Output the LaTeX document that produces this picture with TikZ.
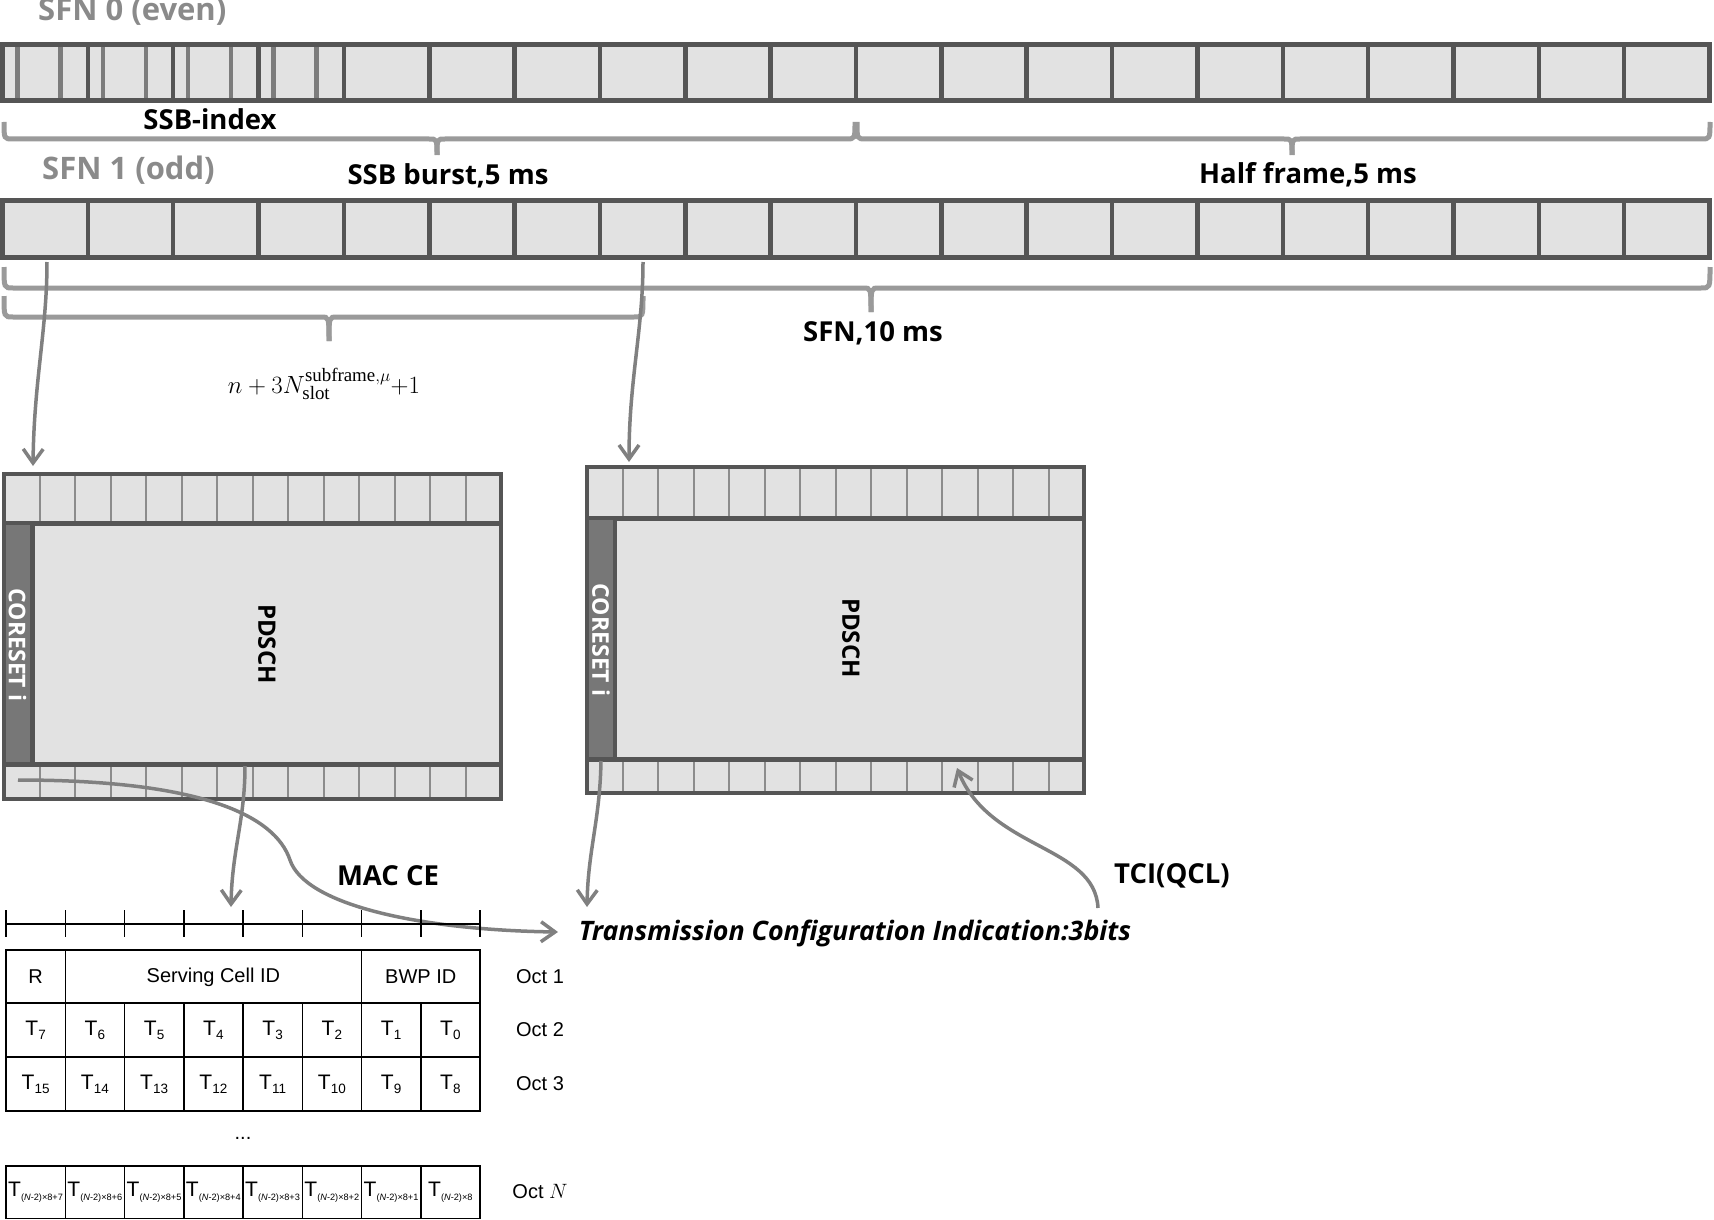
\documentclass[tikz,border=0pt]{standalone}
\usepackage{fontspec}
\setmainfont{Liberation Sans}
\setmathrm{Liberation Serif}
\newfontfamily\labfont{Open Sans}
\usetikzlibrary{arrows.meta}
\definecolor{bordc}{HTML}{555555}
\definecolor{cellc}{HTML}{E2E2E2}
\definecolor{thinc}{HTML}{8C8C8C}
\definecolor{ssbc}{HTML}{7C7C7C}
\definecolor{brc}{HTML}{9A9A9A}
\definecolor{arrc}{HTML}{808080}
\definecolor{grytxt}{HTML}{8A8A8A}
\definecolor{corc}{HTML}{777777}
\newcommand\Tsb[1]{T\raisebox{-4pt}{\fontsize{13.5}{14}\selectfont #1}}
\newcommand\Tlg[1]{T\raisebox{-4pt}{\fontsize{9.2}{10}\selectfont (\textit{N}-2)×8#1}}
\newcommand\gbrace[6]{%
  \draw[gbr] (#1,#4) .. controls (#1,#5) .. (#1+9,#5) -- (#3-8,#5) .. controls (#3,#5) .. (#3,#6);
  \draw[gbr] (#2,#4) .. controls (#2,#5) .. (#2-9,#5) -- (#3+8,#5) .. controls (#3,#5) .. (#3,#6);}
\newcommand\slotbox[7]{%
  \fill[cellc] (#1,#2) rectangle (#3,#4);
  \foreach \k in {1,...,13} {
    \draw[thinl] ({#1+\k*(#3-#1)/14},#2) -- ({#1+\k*(#3-#1)/14},#5);
    \draw[thinl] ({#1+\k*(#3-#1)/14},#6) -- ({#1+\k*(#3-#1)/14},#4);}
  \draw[draw=bordc, line width=5pt] (#1,#5) -- (#3,#5) (#1,#6) -- (#3,#6);
  \filldraw[fill=corc, draw=bordc, line width=4.5pt] (#1,#5) rectangle (#7,#6);
  \draw[bord] (#1,#2) rectangle (#3,#4);}
\begin{document}
\begin{tikzpicture}[x=1pt,y=-1pt,
  lab/.style={font=\labfont\bfseries\fontsize{27.5}{30}\selectfont, inner sep=0pt},
  glab/.style={font=\labfont\bfseries\fontsize{31}{33}\selectfont, text=grytxt, inner sep=0pt},
  bord/.style={draw=bordc, line width=4.5pt},
  divl/.style={draw=bordc, line width=4.5pt},
  ssbl/.style={draw=ssbc, line width=4.5pt},
  thinl/.style={draw=thinc, line width=2pt},
  gbr/.style={draw=brc, line width=5pt},
  arr/.style={draw=arrc, line width=3.5pt, -{Straight Barb[length=14pt,width=20pt]}},
  tbl/.style={draw=black, line width=1.5pt},
  ttxt/.style={font=\fontsize{20}{22}\selectfont, inner sep=0pt},
  tcell/.style={font=\fontsize{21}{22}\selectfont, inner sep=0pt},
  tlong/.style={font=\fontsize{21}{22}\selectfont, inner sep=0pt},
  vtxt/.style={rotate=-90, font=\labfont\bfseries\fontsize{24}{26}\selectfont, inner sep=0pt}]
\fill[white] (0,0) rectangle (1714,1220);
\useasboundingbox (0,0) rectangle (1714,1220);

% ---- SFN 0 bar
\node[glab, anchor=base west] (sfn0) at (38,21) {SFN 0 (even)};
\fill[cellc] (2.5,44.5) rectangle (1709.5,100.5);
\foreach \k in {0,1,2,3} {
  \draw[ssbl] ({2.5+\k*85.35+15},47) -- ++(0,51);
  \draw[ssbl] ({2.5+\k*85.35+58},47) -- ++(0,51);}
\foreach \k in {1,...,19} \draw[divl] ({2.5+\k*85.35},44.5) -- ++(0,56);
\draw[bord] (2.5,44.5) rectangle (1709.5,100.5);

\gbrace{4}{855}{437}{122}{139}{155}
\gbrace{857}{1710}{1292}{122}{139}{155}
\node[lab, anchor=base] (ssbidx) at (210,130) {SSB-index};
\node[glab, anchor=base west] (sfn1) at (42,179) {SFN 1 (odd)};
\node[lab, anchor=base] (burst) at (448,184) {SSB burst,5 ms};
\node[lab, anchor=base] (half) at (1308,183) {Half frame,5 ms};

% ---- SFN 1 bar
\fill[cellc] (2.5,200.5) rectangle (1709.5,257.5);
\foreach \k in {1,...,19} \draw[divl] ({2.5+\k*85.35},200.5) -- ++(0,57);
\draw[bord] (2.5,200.5) rectangle (1709.5,257.5);

\gbrace{4}{1710}{871}{267}{288}{312}
\gbrace{4}{643}{329}{296}{317}{341}
\node[lab, anchor=base] (sfn10) at (873,341) {SFN,10 ms};
\node[inner sep=0pt, font=\fontsize{27}{28}\selectfont] (frm) at (324,384)
  {$n+3N^{\mathrm{subframe},\mu}_{\mathrm{slot}}{+}1$};

% ---- slot boxes
\slotbox{4}{474}{501}{799}{523}{764}{32.5}
\node[vtxt] (pdschA) at (267,644) {PDSCH};
\node[vtxt, text=white, font=\labfont\bfseries\fontsize{23}{25}\selectfont] (corA) at (17.5,645) {CORESET i};
\slotbox{587}{467}{1084}{793}{518}{759}{615}
\node[vtxt] (pdschB) at (851,638) {PDSCH};
\node[vtxt, text=white, font=\labfont\bfseries\fontsize{23}{25}\selectfont] (corB) at (601,640) {CORESET i};

% ---- connectors
\coordinate (a1s) at (47,262); \coordinate (a1e) at (33,466);
\coordinate (a2s) at (643,262); \coordinate (a2e) at (629,462);
\coordinate (a3s) at (245,766); \coordinate (a3e) at (231,907);
\coordinate (a4s) at (601,761); \coordinate (a4e) at (587,907);
\coordinate (macs) at (18,780); \coordinate (macm) at (290,860); \coordinate (mace) at (558,932);
\coordinate (tcis) at (1098,908); \coordinate (tcie) at (957,768);
\draw[arr] (a1s) .. controls (47,330) and (34,380) .. (a1e);
\draw[arr] (a2s) .. controls (643,330) and (629,380) .. (a2e);
\draw[arr] (a3s) .. controls (245,820) and (232,850) .. (a3e);
\draw[arr] (a4s) .. controls (600,820) and (588,850) .. (a4e);
\draw[arr] (macs) .. controls (200,780) and (275,815) .. (macm) .. controls (305,905) and (420,930) .. (mace);
\draw[arr] (tcis) .. controls (1095,845) and (990,850) .. (tcie);

\node[lab] (macce) at (388,876) {MAC CE};
\node[lab] (tcil) at (1172,876) {TCI(QCL)};
\node[lab, font=\labfont\bfseries\itshape\fontsize{26.8}{28}\selectfont] (tci) at (855,933) {Transmission Configuration Indication:3bits};

% ---- MAC CE table
\draw[tbl] (6,924) -- (480,924);
\foreach \i in {0,...,8} \draw[tbl] ({6+\i*59.25},910) -- ++(0,27);
\node[ttxt] (cR) at (35.6,977) {R};
\node[ttxt] (cSC) at (213.4,977) {Serving Cell ID};
\node[ttxt] (cBWP) at (420.75,977) {BWP ID};
\foreach \s [count=\i from 0] in {7,6,5,4,3,2,1,0}
  \node[tcell] (r2c\i) at ({35.6+\i*59.25},1030) {\Tsb{\s}};
\foreach \s [count=\i from 0] in {15,14,13,12,11,10,9,8}
  \node[tcell] (r3c\i) at ({35.6+\i*59.25},1084) {\Tsb{\s}};
\node[ttxt] (dots) at (243,1138) {...};
\foreach \s [count=\i from 0] in {+7,+6,+5,+4,+3,+2,+1,{}}
  \node[tlong] (rNc\i) at ({35.6+\i*59.25},1192) {\Tlg{\s}};
\draw[tbl] (6,950) rectangle (480,1111);
\draw[tbl] (6,1003) -- (480,1003) (6,1057) -- (480,1057);
\draw[tbl] (65.25,950) -- (65.25,1003) (361.5,950) -- (361.5,1003);
\foreach \i in {1,...,7} \draw[tbl] ({6+\i*59.25},1003) -- ++(0,108);
\draw[tbl] (6,1166) rectangle (480,1218.5);
\foreach \i in {1,...,7} \draw[tbl] ({6+\i*59.25},1166) -- ++(0,52.5);
\node[ttxt] (oct1) at (540,977) {Oct 1};
\node[ttxt] (oct2) at (540,1030) {Oct 2};
\node[ttxt] (oct3) at (540,1084) {Oct 3};
\node[ttxt] (octN) at (540,1192) {Oct $N$};
\end{tikzpicture}
\end{document}
